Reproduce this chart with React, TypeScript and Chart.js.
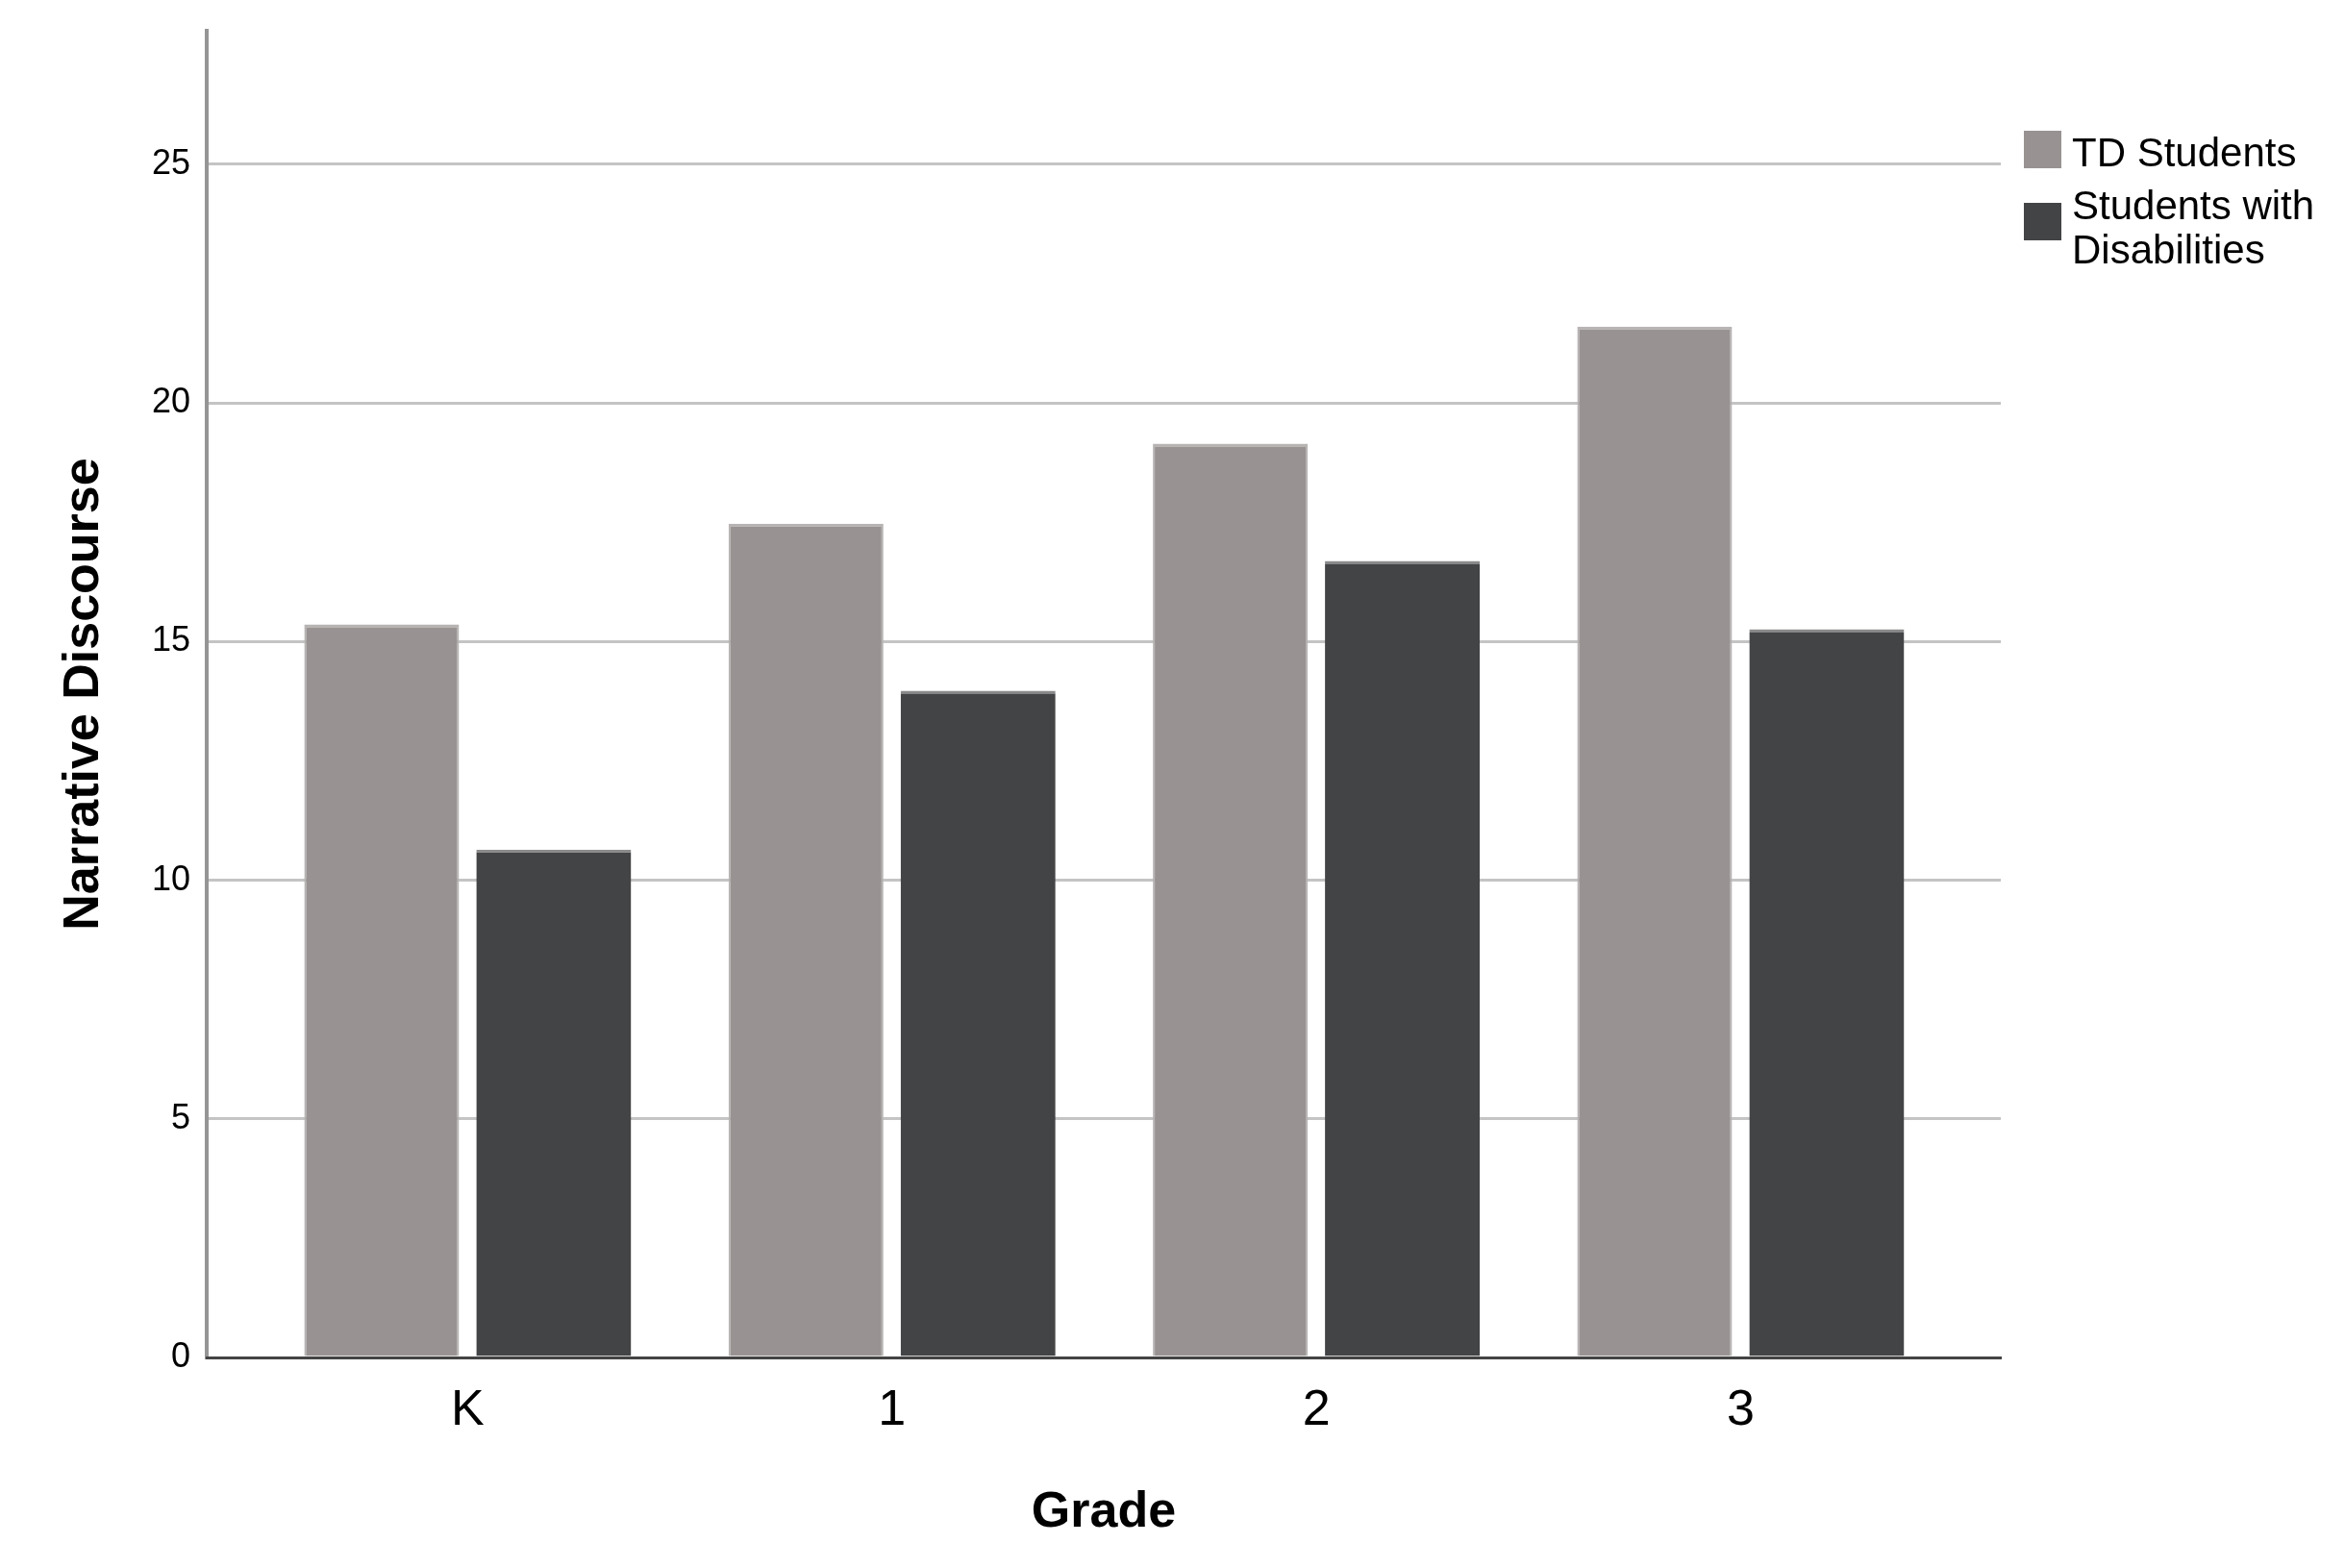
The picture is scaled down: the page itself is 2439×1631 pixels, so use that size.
import { useEffect, useRef } from 'react';
import { Chart, registerables } from 'chart.js';

Chart.register(...registerables);

// values
const grades = ['K', '1', '2', '3'];
const tdStudents = [15.36, 17.47, 19.15, 21.6];
const studentsWithDisabilities = [10.64, 13.97, 16.69, 15.26];
const yTickValues = [0, 5, 10, 15, 20, 25];
const seriesNames = ['TD Students', 'Students with Disabilities'];
const legendLines = [['TD Students'], ['Students with', 'Disabilities']];
const seriesColors = ['#989392', '#434446'];

const narrowFont = "'Liberation Sans Narrow', 'Arial Narrow', 'Liberation Sans', Arial, sans-serif";
const plainFont = "'Liberation Sans', Arial, sans-serif";

export default function App() {
  const canvasRef = useRef<HTMLCanvasElement>(null);
  const chartRef = useRef<Chart | null>(null);

  useEffect(() => {
    document.body.style.margin = '0';
    if (!canvasRef.current) return;

    if (chartRef.current) {
      chartRef.current.destroy();
    }

    const ctx = canvasRef.current.getContext('2d');
    if (!ctx) return;

    chartRef.current = new Chart(ctx, {
      type: 'bar',
      data: {
        datasets: [
          {
            label: seriesNames[0],
            data: tdStudents.map((y, i) => ({ x: i, y })),
            backgroundColor: seriesColors[0],
            borderColor: '#b7b3b2',
            borderWidth: { top: 3, left: 2, right: 2, bottom: 0 },
          },
          {
            label: seriesNames[1],
            data: studentsWithDisabilities.map((y, i) => ({ x: i, y })),
            backgroundColor: seriesColors[1],
            borderColor: '#8a8a8b',
            borderWidth: { top: 3, left: 0, right: 0, bottom: 0 },
          },
        ],
      },
      options: {
        responsive: false,
        animation: false,
        devicePixelRatio: 1,
        categoryPercentage: 0.811,
        barPercentage: 0.9,
        layout: { padding: { top: 32, right: 358, bottom: 0, left: 0 } },
        scales: {
          x: {
            type: 'linear',
            offset: false,
            bounds: 'data',
            min: -0.615,
            max: 3.613,
            afterBuildTicks: (scale) => {
              scale.ticks = grades.map((_, i) => ({ value: i }));
            },
            afterFit: (scale) => {
              scale.height = 219;
              scale.paddingLeft = 0;
              scale.paddingRight = 0;
            },
            ticks: {
              callback: (value) => grades[value as number],
              font: { family: narrowFont, size: 52 },
              color: '#000',
              padding: 24,
              autoSkip: false,
              maxRotation: 0,
            },
            grid: { display: false, offset: false, drawTicks: false, tickLength: 0 },
            border: { display: true, color: '#444444', width: 3, z: 1 },
            title: {
              display: true,
              text: 'Grade',
              color: '#000',
              font: { family: plainFont, size: 52, weight: 'bold' },
              padding: { top: 0, bottom: 26 },
            },
          },
          y: {
            type: 'linear',
            min: 0,
            max: 27.8,
            afterBuildTicks: (scale) => {
              scale.ticks = yTickValues.map((value) => ({ value }));
            },
            afterFit: (scale) => {
              scale.width = 215;
              scale.paddingTop = 0;
              scale.paddingBottom = 0;
            },
            ticks: {
              font: { family: narrowFont, size: 36 },
              color: '#000',
              padding: 17,
            },
            grid: {
              color: (c) => (c.tick && c.tick.value === 0 ? 'rgba(0,0,0,0)' : '#c4c4c4'),
              lineWidth: 3,
              drawTicks: false,
              tickLength: 0,
            },
            border: { display: true, color: '#959595', width: 4 },
            title: {
              display: true,
              text: 'Narrative Discourse',
              color: '#000',
              font: { family: plainFont, size: 52, weight: 'bold' },
              padding: { top: 56, bottom: 0 },
            },
          },
        },
        plugins: {
          legend: { display: false },
          tooltip: { enabled: false },
        },
      },
    });

    return () => {
      if (chartRef.current) {
        chartRef.current.destroy();
        chartRef.current = null;
      }
    };
  }, []);

  return (
    <div style={{ position: 'relative', width: 2439, height: 1631, overflow: 'hidden', background: '#fff' }}>
      <canvas ref={canvasRef} width={2439} height={1631} style={{ display: 'block', width: 2439, height: 1631 }} />
      <div style={{ position: 'absolute', left: 2105, top: 136, fontFamily: plainFont, fontSize: 42, lineHeight: '46px', color: '#000' }}>
        {legendLines.map((lines, i) => (
          <div key={seriesNames[i]} style={{ position: 'relative', height: i === 0 ? 55 : 92 }}>
            <div
              style={{
                position: 'absolute',
                left: 0,
                top: i === 0 ? 0 : 20,
                width: 39,
                height: 39,
                background: seriesColors[i],
              }}
            />
            <div style={{ position: 'absolute', left: 50, top: 0, whiteSpace: 'nowrap' }}>
              {lines.map((line) => (
                <div key={line}>{line}</div>
              ))}
            </div>
          </div>
        ))}
      </div>
    </div>
  );
}
